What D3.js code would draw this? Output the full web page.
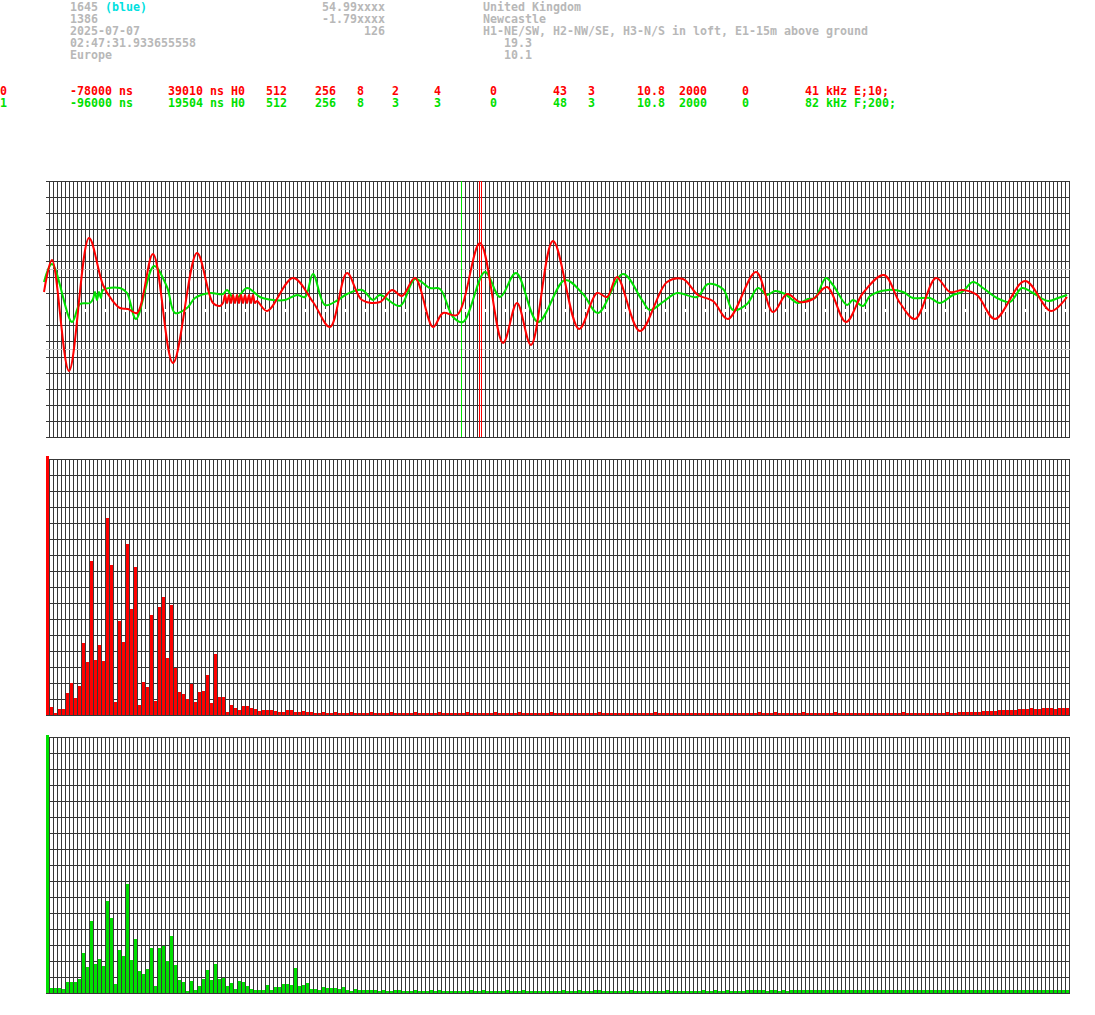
<!DOCTYPE html>
<html><head><meta charset="utf-8">
<script src="https://cdn.jsdelivr.net/npm/d3@7"></script>
<style>body{margin:0;background:#fff}svg{display:block}</style>
</head><body>
<script>
// ---------------- DATA ----------------
// header rows: [column, row, text]
const headerGray = [
  [10,0,"1645"],[46,0,"54.99xxxx"],[69,0,"United Kingdom"],
  [10,1,"1386"],[46,1,"-1.79xxxx"],[69,1,"Newcastle"],
  [10,2,"2025-07-07"],[52,2,"126"],[69,2,"H1-NE/SW, H2-NW/SE, H3-N/S in loft, E1-15m above ground"],
  [10,3,"02:47:31.933655558"],[72,3,"19.3"],
  [10,4,"Europe"],[72,4,"10.1"]
];
const headerCyan = [[15,0,"(blue)"]];
const channelCols = [0,10,24,38,45,51,56,62,70,79,84,91,97,106,115];
const channel0 = ["0","-78000 ns","39010 ns H0","512","256","8","2","4","0","43","3","10.8","2000","0","41 kHz E;10;"];
const channel1 = ["1","-96000 ns","19504 ns H0","512","256","8","3","3","0","48","3","10.8","2000","0","82 kHz F;200;"];

// waveform samples (sample index, amplitude)
const redT = [0,8,25,45,59,68,76,84,93,109,129,153,169,176,
  179,181,183,185,187,189,191,193,195,197,199,201,203,205,207,209,211,213,
  223,249,269,286,303,318,336,348,358,371,389,399,413,436,459,473,487,509,535,553,563,573,596,623,639,654,669,684,712,729,743,756,769,783,802,819,840,856,871,892,906,919,933,951,981,1007,1023];
const redV = [17,49,-62,71,24,9,1,0,-4,55,-54,56,6,3,
  6,14,6,14,6,14,6,14,6,14,6,14,6,14,6,14,6,8,
  -2,31,7,-18,36,9,7,19,13,31,-18,-4,-6,66,-34,6,-36,68,-20,16,12,32,-22,27,30,14,8,-10,37,-3,15,7,10,22,-13,16,34,6,-10,31,17,19,14,-10,28,-2,12];
const greenT = [0,8,28,36,46,49,51,53,55,57,59,76,83,92,110,123,131,143,151,166,179,183,191,203,216,229,241,253,261,269,281,294,303,318,329,336,356,371,386,396,409,419,441,456,472,494,521,539,554,579,598,606,619,633,653,664,679,689,703,714,723,731,741,754,764,771,782,789,803,809,819,826,844,859,869,886,896,909,918,929,939,953,966,978,989,1004,1014,1023];
const greenV = [27,45,-13,5,6,10,17,9,17,11,19,21,16,-10,43,22,-4,1,11,16,15,19,9,21,12,9,9,14,12,35,4,9,15,19,9,14,3,30,21,20,-8,-13,37,12,36,-13,29,15,-4,35,9,-1,7,16,12,25,20,-1,5,21,14,18,15,6,10,11,31,24,4,9,3,13,19,17,11,11,6,14,17,27,21,11,7,21,16,8,11,14];

// spectrum bins (256 each)
const redBins = [259,8,2,6,6,22,32,17,29,72,53,154,55,70,54,197,150,13,94,73,171,106,148,10,33,28,100,14,108,118,57,110,47,23,21,16,31,13,23,24,40,12,61,18,18,3,10,7,5,9,9,7,6,4,5,5,5,4,3,3,5,5,3,3,
  4,3,3,2,2,3,2,2,3,2,2,2,3,2,2,2,
  2,3,2,2,2,2,3,2,2,2,2,2,3,2,2,2,
  2,2,3,2,2,2,2,2,2,3,2,2,2,2,2,2,
  3,2,2,2,2,2,3,2,2,2,2,2,2,2,3,2,
  2,2,2,2,2,2,2,2,2,2,3,2,2,2,2,2,
  2,2,2,2,2,2,2,2,3,2,2,2,2,2,2,2,
  2,2,2,2,2,2,2,2,2,2,2,2,2,2,2,2,
  2,2,3,2,2,2,3,2,2,2,2,2,2,3,2,2,
  2,2,2,2,2,3,2,2,2,2,2,2,2,2,2,2,
  2,2,2,2,2,2,3,2,2,2,2,2,2,2,2,2,
  2,3,2,2,3,3,3,3,3,3,4,4,4,4,5,5,
  5,5,5,6,6,6,7,6,6,7,7,7,6,7,7,7];
const greenBins = [258,5,5,5,4,11,11,11,14,40,26,72,29,34,27,92,75,9,43,37,109,33,54,22,19,24,45,7,45,47,32,57,28,13,11,2,12,3,7,14,23,13,29,14,15,7,10,4,12,11,7,4,3,3,3,8,3,6,6,9,9,8,25,7,8,10,4,4,3,6,5,5,5,4,6,3,2,4,3,
  3,3,3,3,2,3,2,2,3,3,2,2,2,3,2,2,
  2,3,2,3,2,2,2,2,2,2,2,3,2,2,3,2,
  2,2,2,2,3,2,2,2,3,2,2,2,2,2,2,2,
  2,2,3,2,2,2,3,2,2,2,3,3,2,2,2,2,
  2,2,2,3,2,2,2,2,2,2,2,2,3,2,2,2,
  2,2,2,2,2,3,2,2,3,2,2,3,2,2,2,2,
  3,3,3,3,3,2,3,3,2,3,2,3,3,3,3,3,
  3,3,3,3,3,3,3,3,3,3,3,3,3,3,3,3,
  3,3,3,3,3,3,3,3,3,3,3,3,3,3,3,3,
  3,3,3,3,3,3,3,3,3,3,3,3,3,3,3,3,
  3,3,3,3,3,3,3,3,3,3,3,3,3,3,3,3,3];

// ---------------- DRAW ----------------
const W = 1095, H = 1015;
const C = {red:"#ff0000", green:"#00e000", gray:"#b8b8b8", cyan:"#00e0e0", grid:"#383838", guide:"#c8c8c8"};
const svg = d3.select("body").append("svg").attr("width", W).attr("height", H);
svg.append("rect").attr("width", W).attr("height", H).attr("fill", "#fff");

const CW = 7;
const font = "'DejaVu Sans Mono', 'Liberation Mono', monospace";
const txt = svg.append("g").attr("font-family", font).attr("font-size", "11.63px").attr("font-weight", "bold");
function put(col, base, s, color) {
  txt.append("text").attr("x", col * CW).attr("y", base).attr("fill", color).style("white-space", "pre").text(s);
}
const rowBase = d3.scaleLinear().domain([0, 1]).range([11, 23]);
headerGray.forEach(d => put(d[0], rowBase(d[1]), d[2], C.gray));
headerCyan.forEach(d => put(d[0], rowBase(d[1]), d[2], C.cyan));
channel0.forEach((s, i) => put(channelCols[i], 95, s, C.red));
channel1.forEach((s, i) => put(channelCols[i], 107, s, C.green));

// bin scale shared by all panels
const xb = d3.scaleLinear().domain([0, 256]).range([45.5, 1069.5]);
const cols = d3.range(256);
const rows = d3.range(17);

function grid(g, top, centerWhite) {
  const yr = d3.scaleLinear().domain([0, 16]).range([top + 0.5, top + 256.5]);
  g.append("g").selectAll("line").data(rows).join("line")
    .attr("x1", 46).attr("x2", 1070).attr("y1", d => yr(d)).attr("y2", d => yr(d))
    .attr("stroke", d => (centerWhite && d === 8) ? "#fff" : C.grid).attr("stroke-width", d => (centerWhite && d === 8) ? 2 : 1);
  return yr;
}
function vgrid(g, top) {
  g.append("g").selectAll("line").data(cols).join("line")
    .attr("x1", d => xb(d + 1)).attr("x2", d => xb(d + 1))
    .attr("y1", top).attr("y2", top + 257)
    .attr("stroke", C.grid).attr("stroke-width", 1);
}
svg.attr("shape-rendering", "crispEdges");

// ---- waveform panel ----
const wTop = 181;
const wg = svg.append("g");
grid(wg, wTop, true);
vgrid(wg, wTop);
const xw = d3.scaleLinear().domain([0, 1024]).range([44, 1068]);
const yw = d3.scaleLinear().domain([-128, 128]).range([wTop + 256, wTop]);
// white tick marks on the centre line (every fifth column)
wg.append("g").selectAll("rect").data(cols.filter(k => k % 5 === 4)).join("rect")
  .attr("x", d => xb(d + 1) - 1).attr("width", 2).attr("y", yw(0)).attr("height", 3).attr("fill", "#fff");
[40, -40].forEach(v => wg.append("line").attr("x1", 46).attr("x2", 1070).attr("y1", yw(v) + 0.5).attr("y2", yw(v) + 0.5).attr("stroke", C.guide));
wg.append("line").attr("x1", 461.5).attr("x2", 461.5).attr("y1", wTop).attr("y2", wTop + 256).attr("stroke", C.green);
[479.5, 481.5].forEach(x => wg.append("line").attr("x1", x).attr("x2", x).attr("y1", wTop).attr("y2", wTop + 256).attr("stroke", C.red));
const line = d3.line().x(d => xw(d[0])).y(d => yw(d[1])).curve(d3.curveCatmullRom.alpha(0.5));
wg.append("path").datum(greenT.map((t, i) => [t, greenV[i]])).attr("d", line)
  .attr("fill", "none").attr("stroke", C.green).attr("stroke-width", 2).attr("shape-rendering", "auto");
wg.append("path").datum(redT.map((t, i) => [t, redV[i]])).attr("d", line)
  .attr("fill", "none").attr("stroke", C.red).attr("stroke-width", 2).attr("shape-rendering", "auto");

// ---- spectrum panels ----
function spectrum(top, bins, color) {
  const g = svg.append("g");
  grid(g, top, false);
  vgrid(g, top);
  const y = d3.scaleLinear().domain([0, 256]).range([top + 256, top]);
  g.append("g").selectAll("rect").data(bins).join("rect")
    .attr("x", (d, i) => xb(i) + 0.5).attr("width", 3)
    .attr("y", d => y(d)).attr("height", d => y(0) - y(d))
    .attr("fill", color);
}
spectrum(459, redBins, C.red);
spectrum(737, greenBins, C.green);
</script>
</body></html>
